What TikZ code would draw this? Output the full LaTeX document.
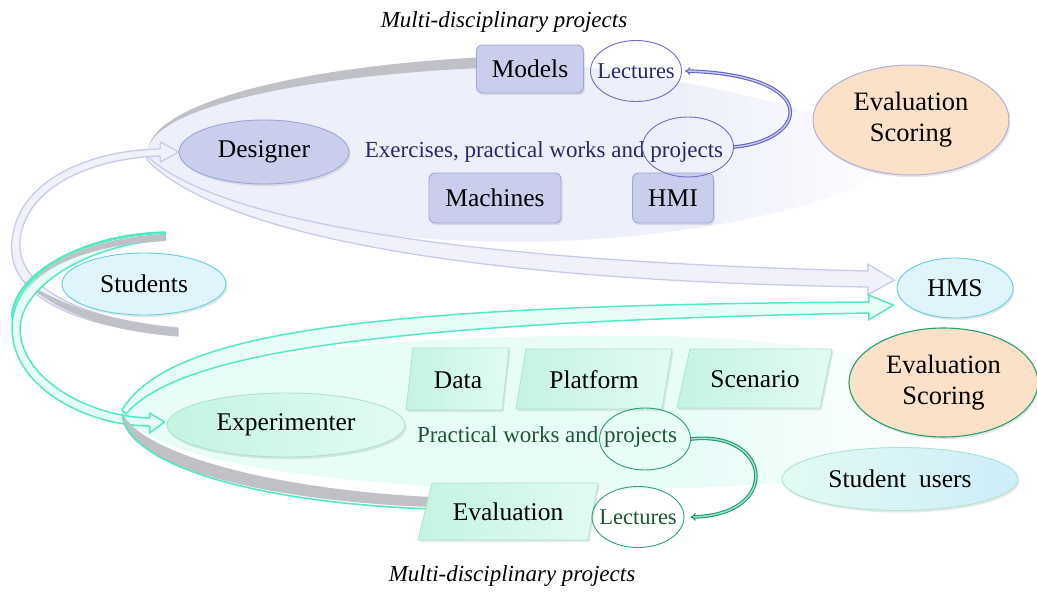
\documentclass[tikz,border=0pt]{standalone}
\usepackage{fontspec}
\setmainfont{Liberation Serif}
\usetikzlibrary{shapes.geometric,arrows.meta,shadows,calc}
\definecolor{lavbg}{RGB}{237,239,250}
\definecolor{cyanbg}{RGB}{232,252,248}
\definecolor{lavline}{RGB}{200,203,234}
\definecolor{lavrib}{RGB}{240,241,251}
\definecolor{ribgray}{RGB}{192,193,198}
\definecolor{tealone}{RGB}{80,234,196}
\definecolor{tealrib}{RGB}{232,253,248}
\definecolor{lavnode}{RGB}{202,206,237}
\definecolor{lavborder}{RGB}{160,165,218}
\definecolor{navy}{RGB}{40,40,110}
\definecolor{lecblue}{RGB}{110,110,200}
\definecolor{arrowblue}{RGB}{100,100,205}
\definecolor{peach}{RGB}{251,225,200}
\definecolor{evalborderA}{RGB}{180,172,222}
\definecolor{evalborderB}{RGB}{40,160,110}
\definecolor{greenline}{RGB}{40,160,120}
\definecolor{darkgreen}{RGB}{30,85,50}
\definecolor{arrowgreen}{RGB}{20,160,110}
\definecolor{skyfill}{RGB}{224,244,252}
\definecolor{skyline}{RGB}{100,205,228}
\definecolor{mintA}{RGB}{196,244,226}
\definecolor{mintB}{RGB}{226,251,243}
\definecolor{mintline}{RGB}{170,228,208}
\definecolor{suA}{RGB}{226,250,242}
\definecolor{suB}{RGB}{206,237,250}
\pgfdeclarehorizontalshading{lavshade}{100bp}{color(0bp)=(lavbg); color(60bp)=(lavbg); color(75bp)=(white); color(100bp)=(white)}
\pgfdeclarehorizontalshading{cyanshade}{100bp}{color(0bp)=(cyanbg); color(58bp)=(cyanbg); color(73bp)=(white); color(100bp)=(white)}
\pgfdeclarelayer{bg}
\pgfsetlayers{bg,main}
\newcommand\mkzero[1]{\makebox[0pt]{#1}}
\begin{document}
\begin{tikzpicture}[x=1pt,y=-1pt,
  shadowy/.style={drop shadow={opacity=0.18, shadow xshift=1.5pt, shadow yshift=-2.2pt}},
  txt/.style={font=\fontsize{25.5}{30}\selectfont, inner sep=0pt},
  lavbox/.style={txt, shadowy, draw=lavborder, fill=lavnode, line width=0.9pt, rounded corners=6pt},
  ovl/.style={ellipse, inner sep=0pt},
  lecture/.style={ovl, line width=0.9pt, font=\fontsize{22.5}{26}\selectfont},
  para/.style={draw=mintline, line width=0.8pt, left color=mintA, right color=mintB, shadowy},
  lavribbon/.style={fill=lavrib, draw=lavline, line width=1.3pt, line join=round},
  tealribbon/.style={fill=tealrib, draw=tealone, line width=1.5pt, line join=round},
  dblarrow/.style={draw=#1, double=#1!35, double distance=1.4pt, line width=1.1pt, -{Implies}},
  ttl/.style={font=\fontsize{23}{26}\selectfont\itshape, inner sep=0pt}
]
\useasboundingbox (0,0) rectangle (1037,592);

% titles
\node[ttl] (ttop) at (504,22) {Multi-disciplinary projects};
\node[ttl] (tbot) at (512,576) {Multi-disciplinary projects};

% top group
\node[lavbox, minimum width=107pt, minimum height=48pt] (models) at (530,69) {Models};
\node[lavbox, minimum width=132pt, minimum height=50pt] (machines) at (495,198) {Machines};
\node[lavbox, minimum width=81pt, minimum height=50pt] (hmi) at (673,198) {HMI};
\node[ovl, txt, shadowy, draw=lavborder, fill=lavnode, line width=0.9pt, minimum width=170pt, minimum height=64pt] (des) at (264,152) {Designer};
\node[txt, font=\fontsize{23}{27}\selectfont, text=navy] (extext) at (544,152) {Exercises, practical works and projects};
\node[lecture, draw=lecblue, minimum width=91pt, minimum height=60pt] (pt) at (688,147) {};
\node[lecture, draw=lecblue, text=navy, minimum width=91pt, minimum height=61pt] (lt) at (636,71) {\mkzero{Lectures}};
\node[ovl, shadowy, fill=peach, draw=evalborderA, line width=1pt, minimum width=196pt, minimum height=110pt, align=center, font=\fontsize{26.5}{31}\selectfont] (evtop) at (911,120) {Evaluation\\Scoring};

% middle
\node[ovl, txt, shadowy, fill=skyfill, draw=skyline, line width=0.9pt, minimum width=116pt, minimum height=60pt] (hms) at (955,288) {HMS};
\node[ovl, txt, shadowy, fill=skyfill, draw=skyline, line width=0.9pt, minimum width=164pt, minimum height=62pt] (stu) at (144,284) {Students};

% bottom group
\node[ovl, txt, shadowy, left color=mintA, right color=mintB, draw=mintline, line width=0.9pt, minimum width=238pt, minimum height=64pt] (exp) at (286,425) {Experimenter};
\path[para] (413,348) -- (509,348) -- (502,410) -- (406,410) -- cycle;
\node[txt] (data) at (458,380) {Data};
\path[para] (526,349) -- (672,349) -- (662,409) -- (516,409) -- cycle;
\node[txt] (plat) at (594,380) {Platform};
\path[para] (690,349) -- (832,349) -- (820,408) -- (677,408) -- cycle;
\node[txt] (scen) at (755,379) {Scenario};
\path[para] (432,483) -- (598,483) -- (588,540) -- (418,540) -- cycle;
\node[txt] (evalb) at (508,512) {Evaluation};
\node[txt, font=\fontsize{23}{27}\selectfont, text=darkgreen] (prtext) at (547,437) {Practical works and projects};
\node[lecture, draw=greenline, minimum width=91pt, minimum height=62pt] (pb) at (645,439) {};
\node[lecture, draw=greenline, text=darkgreen, minimum width=92pt, minimum height=61pt] (lb) at (638,517) {\mkzero{Lectures}};
\node[ovl, shadowy, fill=peach, draw=evalborderB, line width=1.1pt, minimum width=189pt, minimum height=109pt, align=center, font=\fontsize{26.5}{31}\selectfont] (evbot) at (943.5,382.5) {Evaluation\\Scoring};
\node[ovl, txt, shadowy, left color=suA, right color=suB, draw=mintline, line width=0.9pt, minimum width=236pt, minimum height=63pt] (su) at (900,479) {Student\ \ users};

% small connectors
\draw[dblarrow=arrowblue] (pt.east) .. controls (810,140) and (822,75) .. ([xshift=3pt]lt.east);
\draw[dblarrow=arrowgreen] (pb.east) .. controls (772,430) and (782,515) .. ([xshift=6pt]lb.east);

% tips
\coordinate (tA) at ($(hms.west)+(-2,-8)$);
\coordinate (tB) at ($(hms.west)+(-3,17)$);
\coordinate (tD) at (des.west);
\coordinate (tE) at ($(exp.west)+(-2,-3)$);

\begin{pgfonlayer}{bg}
% background ellipses
\shade[shading=lavshade] (148,152) arc[start angle=180, end angle=257, x radius=427, y radius=97] .. controls (600,62) and (820,100) .. (905,150) .. controls (880,200) and (700,240) .. (520,242) .. controls (300,240) and (160,200) .. (148,152) -- cycle;
\shade[shading=cyanshade] (122,415) .. controls (180,350) and (400,334) .. (650,336) .. controls (850,338) and (990,380) .. (990,420) .. controls (990,470) and (800,488) .. (600,490) .. controls (400,492) and (160,470) .. (122,415) -- cycle;
% R1 lower lavender ribbon to HMS
\path[lavribbon] (147,156) .. controls (210,215) and (420,260) .. (868,271) -- ($(tA)+(-27,-16)$) -- (tA) -- ($(tA)+(-27,15)$) -- (868,287) .. controls (420,280) and (210,225) .. (147,160) -- cycle;
% gray top arc
\fill[ribgray] (148,152) arc[start angle=180, end angle=257, x radius=427, y radius=97] -- ([shift={(572,152)}]257.2:424 and 86) arc[start angle=257.2, end angle=180, x radius=424, y radius=86] -- cycle;
% R2 Students -> Designer
\path[lavribbon] (178,336) .. controls (60,325) and (6,290) .. (12,240) .. controls (18,180) and (90,150) .. (160,149) -- ($(tD)+(-18,-10)$) -- (tD) -- ($(tD)+(-18,10)$) -- (160,156) .. controls (95,158) and (26,185) .. (20,240) .. controls (16,283) and (70,318) .. (178,328) -- cycle;
\fill[ribgray] (178,328) -- (178,336) .. controls (110,332) and (55,312) .. (22,280) .. controls (60,305) and (110,322) .. (178,328) -- cycle;
% R3 Students -> Experimenter
\path[tealribbon] (165,232) .. controls (80,234) and (10,275) .. (12,330) .. controls (14,390) and (90,426) .. (150,426) -- ($(tE)+(-15,11)$) -- (tE) -- ($(tE)+(-15,-9)$) -- (150,418) .. controls (90,417) and (22,380) .. (20,330) .. controls (20,285) and (90,244) .. (165,240) -- cycle;
\fill[ribgray] (165,234) -- (165,241) .. controls (95,244) and (40,265) .. (24,295) .. controls (40,262) and (90,238) .. (165,234) -- cycle;
\draw[tealone, line width=2.2pt] (165,233) .. controls (80,235) and (12,275) .. (12,318);
% R4 upper teal ribbon to HMS
\path[tealribbon] (122,410) .. controls (170,330) and (380,305) .. (869,302) -- ($(tB)+(-25,-10)$) -- (tB) -- ($(tB)+(-25,15)$) -- (869,313) .. controls (400,322) and (180,350) .. (126,414) -- cycle;
% R5 lower gray band
\fill[ribgray] (122,412) .. controls (140,455) and (280,490) .. (432,497) -- (432,507) .. controls (280,502) and (130,470) .. (122,418) -- cycle;
\draw[tealone, line width=1.6pt] (122,414) .. controls (130,472) and (280,504) .. (432,509);
\end{pgfonlayer}
\end{tikzpicture}
\end{document}
